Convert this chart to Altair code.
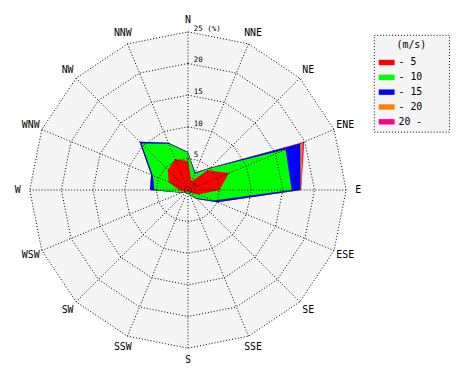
import altair as alt
import numpy as np
import pandas as pd

# ---- data -------------------------------------------------------------
directions = ["N", "NNE", "NE", "ENE", "E", "ESE", "SE", "SSE",
              "S", "SSW", "SW", "WSW", "W", "WNW", "NW", "NNW"]
classes = ["- 5", "- 10", "- 15", "- 20", "20 -"]
colors = ["#ff0000", "#00ff00", "#0000ff", "#ff8000", "#ff0080"]

# frequency (%) of each speed class per direction
freq_5 = [4.6, 1.5, 4.4, 7.0, 5.0, 1.8, 0.6, 0.4, 0.3, 0.3, 0.4, 0.6, 1.4, 3.3, 4.5, 5.3]
freq_10 = [1.3, 1.3, 0.4, 9.7, 11.4, 2.5, 1.2, 0.5, 0.3, 0.2, 0.2, 0.4, 3.9, 2.7, 5.9, 2.6]
freq_15 = [0.1, 0.2, 0.2, 2.5, 1.4, 0.7, 0.2, 0.1, 0.0, 0.0, 0.0, 0.1, 0.7, 0.3, 0.4, 0.2]
freq_20 = [0.0, 0.0, 0.0, 0.4, 0.1, 0.0, 0.0, 0.0, 0.0, 0.0, 0.0, 0.0, 0.0, 0.0, 0.0, 0.0]
freq_over = [0.0, 0.0, 0.0, 0.3, 0.0, 0.0, 0.0, 0.0, 0.0, 0.0, 0.0, 0.0, 0.0, 0.0, 0.0, 0.0]

ring_values = [5, 10, 15, 20, 25]
ring_labels = ["5", "10", "15", "20", "25 (%)"]
outer_ring = 25
label_radius = 26.9

# ---- tables -----------------------------------------------------------
rows = []
cum = np.zeros(len(directions))
for k, (cls, inc) in enumerate(zip(classes, [freq_5, freq_10, freq_15, freq_20, freq_over])):
    cum = cum + np.array(inc)
    for i, d in enumerate(directions):
        rows.append({"cls": cls, "k": k, "idx": i, "r": float(cum[i])})
rose = pd.DataFrame(rows)

rings = pd.DataFrame([{"ring": rv, "idx": i, "r": rv}
                      for rv in ring_values for i in range(len(directions))])
dirs = pd.DataFrame({"idx": list(range(len(directions))), "label": directions,
                     "r": outer_ring, "rl": label_radius})
rlabels = pd.DataFrame({"r": ring_values, "label": ring_labels})

# ---- scales -----------------------------------------------------------
LIM = 28
xs = alt.Scale(domain=[-LIM, LIM], nice=False, zero=False)
ys = alt.Scale(domain=[-LIM, LIM], nice=False, zero=False)
FONT = "DejaVu Sans Mono"

def polar(chart, rfield="r"):
    return chart.transform_calculate(
        x=f"datum.{rfield} * sin(datum.idx * PI / 8)",
        y=f"datum.{rfield} * cos(datum.idx * PI / 8)",
    )

X = alt.X("x:Q", scale=xs, axis=None)
Y = alt.Y("y:Q", scale=ys, axis=None)

background = polar(alt.Chart(rings).transform_filter(alt.datum.ring == outer_ring)).mark_line(
    interpolate="linear-closed", fill="#f5f5f5", strokeWidth=0
).encode(x=X, y=Y, order="idx:Q")

fill_scale = alt.Scale(domain=classes, range=colors)
legend = alt.Legend(
    title="(m/s)",
    orient="none", legendX=367.2, legendY=22.2,
    symbolType="M-1,-0.34L1,-0.34L1,0.34L-1,0.34Z", symbolSize=256,
    symbolStrokeWidth=0, symbolOpacity=1,
    labelFont=FONT, labelFontSize=10, labelColor="black", labelOffset=4,
    labelExpr="datum.label + '\u2800\u2800\u2800'",
    titleFont=FONT, titleFontSize=10, titleFontWeight="normal", titleColor="black",
    titleAnchor="middle", titlePadding=5,
    fillColor="#f5f5f5", strokeColor="black", padding=5, rowPadding=2,
)

layers = [background]
for k in reversed(range(len(classes))):
    layers.append(
        polar(alt.Chart(rose).transform_filter(alt.datum.k == k)).mark_line(
            interpolate="linear-closed", strokeWidth=0
        ).encode(
            x=X, y=Y, order="idx:Q",
            fill=alt.Fill("cls:N", scale=fill_scale, legend=legend),
        )
    )

ring_lines = polar(alt.Chart(rings)).mark_line(
    interpolate="linear-closed", stroke="black", strokeWidth=1, strokeDash=[1, 2]
).encode(x=X, y=Y, order="idx:Q", detail="ring:N")

spokes = polar(alt.Chart(dirs)).transform_calculate(zero="0").mark_rule(
    stroke="black", strokeWidth=1, strokeDash=[1, 2]
).encode(
    x=alt.X("zero:Q", scale=xs, axis=None), y=alt.Y("zero:Q", scale=ys, axis=None),
    x2="x:Q", y2="y:Q",
)

dir_text = polar(alt.Chart(dirs), "rl").mark_text(
    font=FONT, fontSize=10, color="black", align="center", baseline="middle"
).encode(x=X, y=Y, text="label:N")

r_text = alt.Chart(rlabels).transform_calculate(zero="0").mark_text(
    font=FONT, fontSize=7.5, color="black", align="left", baseline="bottom", dx=6, dy=1
).encode(x=alt.X("zero:Q", scale=xs, axis=None), y=alt.Y("r:Q", scale=ys, axis=None),
         text="label:N")

center = alt.Chart(pd.DataFrame({"v": [0], "t": ["*"]})).mark_text(
    font=FONT, fontSize=8, color="black", align="left", baseline="middle", dx=4, dy=-4
).encode(x=alt.X("v:Q", scale=xs, axis=None), y=alt.Y("v:Q", scale=ys, axis=None), text="t:N")

layers += [ring_lines, spokes, dir_text, r_text, center]

chart = alt.layer(*layers).properties(
    width=358.4, height=358.4,
    autosize=alt.AutoSizeParams(type="none"),
    padding={"left": 2.8, "top": 2.8, "right": 98, "bottom": 8},
    background="white",
).configure_view(stroke=None).configure_legend(strokeDash=[1, 2])

chart.save("out.html", embed_options={"renderer": "svg", "actions": False})
